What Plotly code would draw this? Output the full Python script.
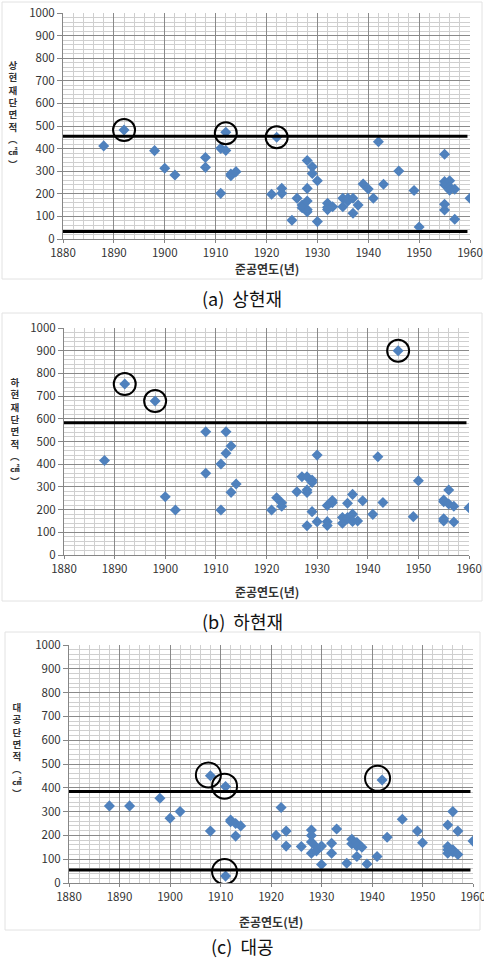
import plotly.graph_objects as go

# ---------------- data ----------------
a_year = [1888, 1892, 1898, 1900, 1902, 1908, 1908, 1911, 1911, 1912, 1912, 1913, 1913, 1914,
          1921, 1922, 1923, 1923, 1925, 1926, 1927, 1927, 1928, 1928, 1928, 1928, 1928,
          1929, 1929, 1930, 1930, 1932, 1932, 1932, 1933, 1935, 1935, 1936, 1936, 1936,
          1937, 1937, 1938, 1939, 1940, 1941, 1942, 1943, 1946, 1949, 1950,
          1955, 1955, 1955, 1955, 1955, 1956, 1956, 1956, 1957, 1957, 1960]
a_val = [412, 482, 391, 313, 283, 361, 317, 401, 202, 472, 392, 280, 288, 298,
         198, 450, 224, 202, 83, 180, 150, 138, 347, 224, 168, 130, 121,
         320, 290, 258, 77, 158, 140, 130, 143, 180, 143, 180, 168, 172,
         180, 114, 150, 243, 221, 180, 430, 242, 301, 215, 53,
         375, 254, 240, 154, 128, 258, 230, 216, 220, 87, 180]
a_circle_x = [1892, 1912, 1922]
a_circle_y = [482, 468, 450]
a_lines = [455, 33]

b_year = [1888, 1892, 1898, 1900, 1902, 1908, 1908, 1911, 1911, 1912, 1912, 1913, 1913, 1914,
          1921, 1922, 1923, 1923, 1926, 1927, 1928, 1928, 1928, 1928, 1929, 1929, 1929,
          1930, 1930, 1932, 1932, 1932, 1933, 1933, 1935, 1935, 1936, 1936, 1936,
          1937, 1937, 1937, 1938, 1939, 1941, 1942, 1943, 1946, 1949, 1950,
          1955, 1955, 1955, 1955, 1956, 1956, 1957, 1957, 1960]
b_val = [416, 753, 678, 257, 198, 543, 360, 401, 198, 543, 448, 480, 276, 313,
         198, 252, 230, 215, 279, 345, 345, 286, 275, 129, 330, 320, 191,
         440, 147, 218, 147, 130, 230, 240, 165, 140, 228, 165, 160,
         267, 180, 148, 150, 239, 179, 433, 231, 900, 169, 327,
         242, 235, 160, 150, 286, 225, 215, 145, 208]
b_circle_x = [1892, 1898, 1946]
b_circle_y = [753, 678, 900]
b_lines = [583]

c_year = [1888, 1892, 1898, 1900, 1902, 1908, 1908, 1911, 1911, 1912, 1912, 1913, 1913, 1914,
          1921, 1922, 1923, 1923, 1926, 1928, 1928, 1928, 1928, 1929, 1929, 1930, 1930,
          1932, 1932, 1933, 1935, 1936, 1936, 1937, 1937, 1937, 1938, 1939, 1941, 1942,
          1943, 1946, 1949, 1950, 1955, 1955, 1955, 1955, 1956, 1956, 1956, 1957, 1957, 1960]
c_val = [324, 324, 356, 272, 300, 451, 218, 405, 29, 265, 258, 250, 197, 240,
         200, 317, 218, 155, 153, 223, 200, 172, 125, 135, 150, 155, 78,
         167, 125, 227, 83, 184, 165, 170, 155, 111, 150, 80, 111, 433,
         192, 268, 218, 169, 244, 153, 140, 125, 300, 140, 130, 218, 120, 176]
c_circle_x = [1907.6, 1910.8, 1910.8, 1941.1]
c_circle_y = [454, 407, 48, 440]
c_lines = [384, 55]

x_ticks = [1880, 1890, 1900, 1910, 1920, 1930, 1940, 1950, 1960]
y_ticks = [0, 100, 200, 300, 400, 500, 600, 700, 800, 900, 1000]

x_title = "준공연도(년)"
y_titles = [list("상현재단면적") + ["︵", "㎠", "︶"],
            list("하현재단면적") + ["︵", "㎠", "︶"],
            list("대공단면적") + ["︵", "㎠", "︶"]]
captions = ["(a)  상현재", "(b)  하현재", "(c)  대공"]

# ---------------- layout geometry (pixels) ----------------
W, H = 484, 960
FONT = "Noto Sans CJK KR"
BLUE = "#4F81BD"

panels = [
    dict(x=a_year, y=a_val, cx=a_circle_x, cy=a_circle_y, lines=a_lines,
         xd=(63, 470), yd=(13, 239), ytx=13, ytc=115, cs=22,
         xt_y=268, cap_y=298, box=(2, 2, 482, 279)),
    dict(x=b_year, y=b_val, cx=b_circle_x, cy=b_circle_y, lines=b_lines,
         xd=(64, 469), yd=(328, 555), ytx=15, ytc=432, cs=22,
         xt_y=591, cap_y=621, box=(2, 313, 482, 601)),
    dict(x=c_year, y=c_val, cx=c_circle_x, cy=c_circle_y, lines=c_lines,
         xd=(69, 473), yd=(645, 883), ytx=17, ytc=750, cs=25,
         xt_y=921, cap_y=946, box=(5, 632, 480, 930)),
]

fig = go.Figure()
shapes = []
annotations = []
layout = dict(width=W, height=H, margin=dict(l=0, r=0, t=0, b=0, pad=0, autoexpand=False),
              paper_bgcolor="white", plot_bgcolor="white", showlegend=False,
              font=dict(family=FONT, size=12, color="#333333"))

for i, p in enumerate(panels):
    n = "" if i == 0 else str(i + 1)
    xa, ya = "x" + n, "y" + n
    fig.add_trace(go.Scatter(x=p["x"], y=p["y"], mode="markers", xaxis=xa, yaxis=ya,
                             marker=dict(symbol="diamond", size=8.5, color=BLUE,
                                         line=dict(width=0)),
                             hoverinfo="x+y"))
    fig.add_trace(go.Scatter(x=p["cx"], y=p["cy"], mode="markers", xaxis=xa, yaxis=ya,
                             marker=dict(symbol="circle-open", size=p["cs"], color="black",
                                         line=dict(width=2, color="black")),
                             hoverinfo="skip"))
    for v in p["lines"]:
        shapes.append(dict(type="line", xref=xa, yref=ya, x0=1880, x1=1959.5, y0=v, y1=v,
                           line=dict(color="black", width=3), layer="above"))
    x0, x1 = p["xd"]
    y0, y1 = p["yd"]
    layout["xaxis" + n] = dict(domain=[x0 / W, x1 / W], anchor=ya, range=[1880, 1960],
                               tickvals=x_ticks, showgrid=True, gridcolor="#8a8a8a", gridwidth=1,
                               minor=dict(dtick=2, tick0=1880, showgrid=True, gridcolor="#cfcfcf",
                                          gridwidth=1),
                               showline=True, linecolor="#868686", linewidth=1,
                               ticks="outside", ticklen=3, tickcolor="#868686",
                               tickfont=dict(family=FONT, size=11.5, color="#333333"),
                               ticklabeloverflow="allow",
                               zeroline=False, fixedrange=True, automargin=False)
    layout["yaxis" + n] = dict(domain=[1 - y1 / H, 1 - y0 / H], anchor=xa, range=[0, 1000],
                               tickvals=y_ticks, showgrid=True, gridcolor="#8a8a8a", gridwidth=1,
                               minor=dict(dtick=20, tick0=0, showgrid=True, gridcolor="#cfcfcf",
                                          gridwidth=1),
                               showline=True, linecolor="#868686", linewidth=1,
                               ticks="outside", ticklen=5, tickcolor="#868686",
                               tickfont=dict(family=FONT, size=11.5, color="#333333"),
                               ticklabeloverflow="allow",
                               zeroline=False, fixedrange=True, automargin=False)
    # chart-area border
    bx0, by0, bx1, by1 = p["box"]
    shapes.append(dict(type="rect", xref="paper", yref="paper", x0=bx0 / W, x1=bx1 / W,
                       y0=1 - by1 / H, y1=1 - by0 / H, line=dict(color="#e2e2e2", width=1),
                       layer="below"))
    # x title
    annotations.append(dict(text="<b>" + x_title + "</b>", xref="paper", yref="paper",
                            x=(x0 + x1) / 2 / W, y=1 - p["xt_y"] / H, showarrow=False,
                            xanchor="center", yanchor="middle",
                            font=dict(family=FONT, size=12, color="#333333")))
    # stacked y title
    annotations.append(dict(text="<b>" + "<br>".join(y_titles[i]) + "</b>",
                            xref="paper", yref="paper",
                            x=p["ytx"] / W, y=1 - p["ytc"] / H,
                            showarrow=False, xanchor="center", yanchor="middle",
                            font=dict(family=FONT, size=9.5, color="#333333")))
    # caption
    annotations.append(dict(text=captions[i], xref="paper", yref="paper",
                            x=0.5, y=1 - p["cap_y"] / H, showarrow=False,
                            xanchor="center", yanchor="middle",
                            font=dict(family=FONT, size=18, color="#111111")))

layout["shapes"] = shapes
layout["annotations"] = annotations
fig.update_layout(**layout)
fig.write_html("out.html", config={"displayModeBar": False},
               post_script="document.body.style.margin='0px';document.body.style.padding='0px';")
